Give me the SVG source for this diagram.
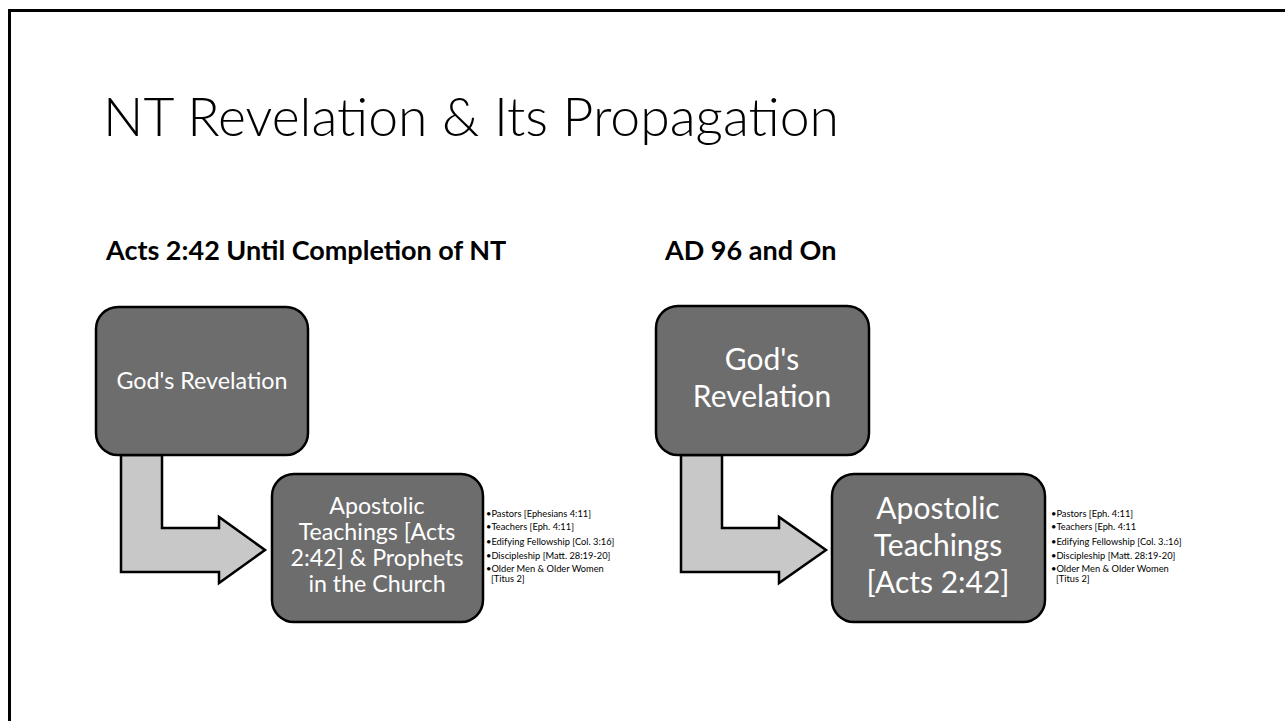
<svg xmlns="http://www.w3.org/2000/svg" width="1285" height="721" viewBox="0 0 1285 721">
<style>
.box{fill:#6d6d6d;stroke:#000;stroke-width:2.5}
.arrow{fill:#c8c8c8;stroke:#000;stroke-width:2.5;stroke-linejoin:miter}
.bt{fill:#fff;font-family:Lato,"Open Sans",sans-serif;text-anchor:middle}
.li{fill:#000;font-family:Lato,"Open Sans",sans-serif;font-size:9.3px}
.h{fill:#000;font-family:Lato,"Open Sans",sans-serif;font-weight:bold;font-size:27px}
</style>
<rect x="9.5" y="10.5" width="1300" height="740" fill="none" stroke="#000" stroke-width="3"/>
<text x="103" y="136" font-family="Lato,'Open Sans',sans-serif" font-weight="300" font-size="53.5" fill="#000">NT Revelation &amp; Its Propagation</text>
<text class="h" x="106" y="260">Acts 2:42 Until Completion of NT</text>
<text class="h" x="665" y="260">AD 96 and On</text>
<g id="connectors">
<polygon class="arrow" points="121,455 162,455 162,528 219,528 219,517 265,550 219,583 219,572 121,572"/>
<polygon class="arrow" points="681,455 722,455 722,528 779,528 779,517 826,550 779,583 779,572 681,572"/>
</g>
<g id="left-revelation">
<rect class="box" x="96" y="307" width="212" height="148" rx="22"/>
<text class="bt" x="202" y="389" font-size="23.3">God's Revelation</text>
</g>
<g id="left-apostolic">
<rect class="box" x="272" y="474" width="211" height="148" rx="22"/>
<text class="bt" x="377" y="514" font-size="23.2">Apostolic</text>
<text class="bt" x="377" y="540" font-size="23.2">Teachings [Acts</text>
<text class="bt" x="377" y="566" font-size="23.2">2:42] &amp; Prophets</text>
<text class="bt" x="377" y="592" font-size="23.2">in the Church</text>
</g>
<g id="left-list">
<text class="li" x="486" y="517">•Pastors [Ephesians 4:11]</text>
<text class="li" x="486" y="530">•Teachers [Eph. 4:11]</text>
<text class="li" x="486" y="545">•Edifying Fellowship [Col. 3:16]</text>
<text class="li" x="486" y="559">•Discipleship [Matt. 28:19-20]</text>
<text class="li" x="486" y="572">•Older Men &amp; Older Women</text>
<text class="li" x="491" y="582">[Titus 2]</text>
</g>
<g id="right-revelation">
<rect class="box" x="656" y="306" width="213" height="149" rx="22"/>
<text class="bt" x="762" y="370" font-size="30">God's</text>
<text class="bt" x="762" y="407" font-size="30">Revelation</text>
</g>
<g id="right-apostolic">
<rect class="box" x="832" y="474" width="213" height="148" rx="22"/>
<text class="bt" x="938" y="519" font-size="30">Apostolic</text>
<text class="bt" x="938" y="556" font-size="30">Teachings</text>
<text class="bt" x="938" y="593" font-size="30">[Acts 2:42]</text>
</g>
<g id="right-list">
<text class="li" x="1051" y="517">•Pastors [Eph. 4:11]</text>
<text class="li" x="1051" y="530">•Teachers [Eph. 4:11</text>
<text class="li" x="1051" y="545">•Edifying Fellowship [Col. 3.:16]</text>
<text class="li" x="1051" y="559">•Discipleship [Matt. 28:19-20]</text>
<text class="li" x="1051" y="572">•Older Men &amp; Older Women</text>
<text class="li" x="1056" y="582">[Titus 2]</text>
</g>
</svg>
